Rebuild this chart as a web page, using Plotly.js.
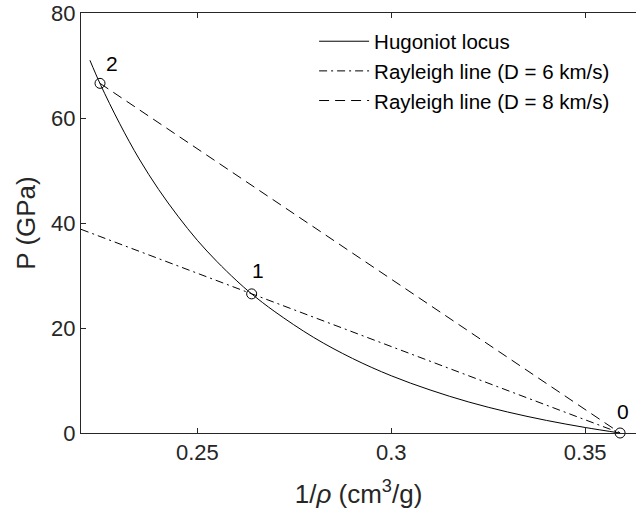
<!DOCTYPE html>
<html>
<head>
<meta charset="utf-8">
<script src="https://cdn.plot.ly/plotly-3.0.1.min.js"></script>
<style>html,body{margin:0;padding:0;background:#fff;}#chart{width:636px;height:517px;}</style>
</head>
<body>
<div id="chart"></div>
<script>
// Hugoniot locus (specific volume 1/rho in cm^3/g, pressure in GPa)
const hugV = [0.2223, 0.225, 0.23, 0.235, 0.24, 0.245, 0.25, 0.255, 0.26, 0.264, 0.27, 0.28, 0.29, 0.30, 0.31, 0.32, 0.33, 0.34, 0.35, 0.359];
const hugP = [71.0, 66.4, 58.9, 52.2, 46.4, 41.3, 36.7, 32.7, 29.1, 26.5, 23.1, 18.2, 14.2, 10.9, 8.2, 5.9, 4.0, 2.4, 1.05, 0];
// Rayleigh line, D = 6 km/s
const ray6V = [0.22, 0.359];
const ray6P = [38.8, 0];
// Rayleigh line, D = 8 km/s
const ray8V = [0.2249, 0.359];
const ray8P = [66.6, 0];
// State points 0, 1, 2
const stateLabels = ['0', '1', '2'];
const stateV = [0.359, 0.264, 0.2249];
const stateP = [0, 26.5, 66.6];
const xTicks = [0.25, 0.3, 0.35];
const xTickText = ['0.25', '0.3', '0.35'];
const yTicks = [0, 20, 40, 60, 80];

const ink = '#262626';
const fam = 'Liberation Sans, Arial, sans-serif';
const traces = [
  {x: hugV, y: hugP, mode: 'lines', name: 'Hugoniot locus', line: {color: '#000', width: 1, shape: 'spline'}},
  {x: ray6V, y: ray6P, mode: 'lines', name: 'Rayleigh line (D = 6 km/s)', line: {color: '#000', width: 1, dash: '8px,4px,2px,4px'}},
  {x: ray8V, y: ray8P, mode: 'lines', name: 'Rayleigh line (D = 8 km/s)', line: {color: '#000', width: 1, dash: '10px,6px'}},
  {x: stateV, y: stateP, mode: 'markers', showlegend: false, cliponaxis: false,
   marker: {symbol: 'circle-open', size: 10, color: '#000', line: {width: 1, color: '#000'}}}
];

const offsets = [[3, -22], [6, -23], [12, -20]];
const annotations = stateLabels.map((t, i) => ({
  x: stateV[i], y: stateP[i], xref: 'x', yref: 'y', text: t, showarrow: false,
  xshift: offsets[i][0], yshift: -offsets[i][1],
  font: {family: fam, size: 21, color: '#000'}
}));

const layout = {
  width: 636, height: 517,
  margin: {l: 81, r: 0, t: 13, b: 84},
  paper_bgcolor: '#fff', plot_bgcolor: '#fff',
  font: {family: fam, size: 22, color: ink},
  showlegend: true,
  legend: {x: 0.42, y: 0.98, xanchor: 'left', yanchor: 'top', bgcolor: 'rgba(0,0,0,0)',
           font: {size: 20.5, color: '#000'}, itemwidth: 50, tracegroupgap: 0},
  xaxis: {range: [0.22, 0.3631], tickvals: xTicks, ticktext: xTickText, ticks: 'inside', ticklen: 5,
          tickcolor: ink, showline: true, linecolor: ink, linewidth: 1, mirror: 'ticks',
          showgrid: false, zeroline: false, tickfont: {size: 22, color: ink},
          title: {text: '1/<i>ρ</i> (cm<sup>3</sup>/g)', font: {size: 26, color: ink}, standoff: 20}},
  yaxis: {range: [0, 80], tickvals: yTicks, ticks: 'inside', ticklen: 5, tickcolor: ink,
          showline: true, linecolor: ink, linewidth: 1, mirror: false,
          showgrid: false, zeroline: false, tickfont: {size: 22, color: ink},
          title: {text: 'P (GPa)', font: {size: 26, color: ink}, standoff: 8}},
  annotations: annotations
};

Plotly.newPlot('chart', traces, layout, {displayModeBar: false, staticPlot: true});
</script>
</body>
</html>
